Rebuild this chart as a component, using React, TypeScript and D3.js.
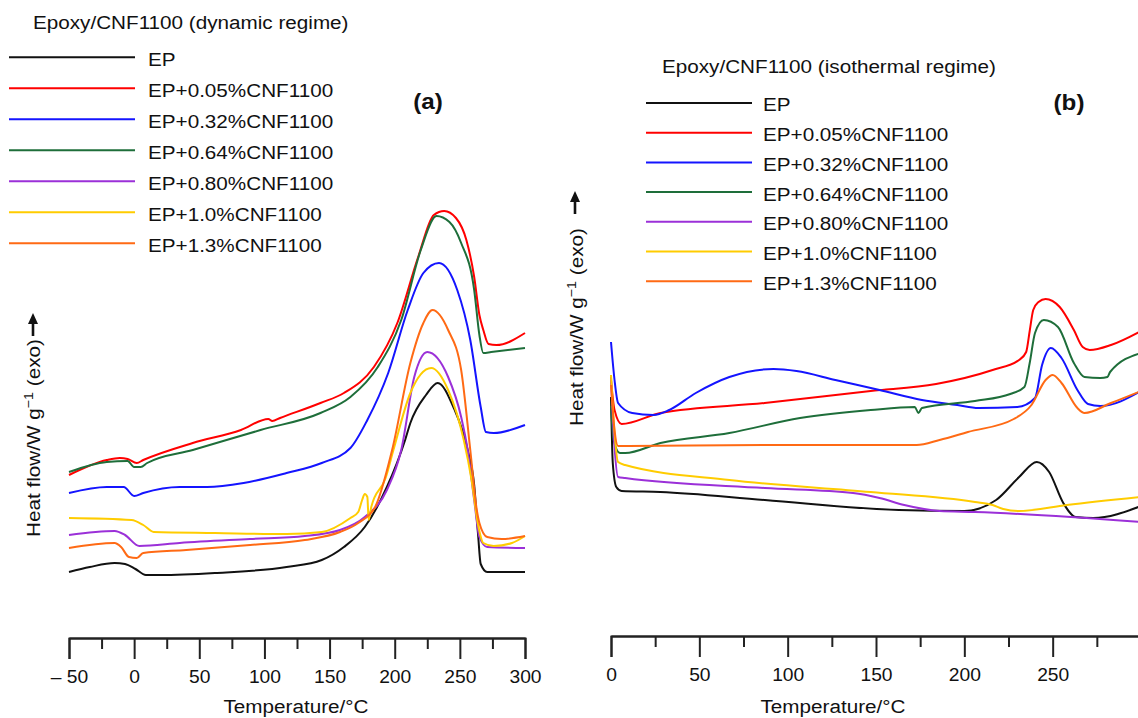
import React, { useEffect, useRef } from 'react';
import * as d3 from 'd3';

type Pt = [number, number];

// (a) dynamic regime: [temperature °C, heat flow (a.u., exo up)]
const dynEP: Pt[] = [[-50,0.68],[-34,0.73],[-15,0.77],[-7,0.76],[1,0.71],[9,0.65],[20,0.65],[62,0.67],[117,0.73],[144,0.80],[161,0.93],[177,1.13],[194,1.53],[208,2.00],[212,2.17],[224,2.45],[233,2.57],[245,2.33],[256,1.90],[261,1.55],[264,1.05],[266,0.76],[271,0.68],[300,0.68]];
const dyn005: Pt[] = [[-50,1.65],[-21,1.80],[-11,1.82],[-5,1.81],[2,1.77],[7,1.80],[45,1.97],[82,2.10],[103,2.21],[106,2.19],[112,2.22],[143,2.37],[161,2.47],[184,2.73],[202,3.17],[218,3.83],[230,4.25],[238,4.29],[247,4.22],[255,4.00],[261,3.63],[265,3.25],[268,3.10],[272,2.96],[278,2.95],[300,3.07]];
const dyn032: Pt[] = [[-50,1.47],[-21,1.53],[-8,1.53],[0,1.44],[7,1.47],[35,1.53],[56,1.53],[84,1.57],[117,1.67],[144,1.77],[166,1.92],[179,2.20],[195,2.67],[210,3.30],[222,3.67],[234,3.77],[248,3.50],[258,3.00],[266,2.33],[270,2.08],[276,2.07],[300,2.15]];
const dyn064: Pt[] = [[-50,1.68],[-21,1.78],[-5,1.79],[0,1.73],[5,1.73],[10,1.77],[45,1.90],[97,2.10],[143,2.27],[166,2.43],[187,2.73],[205,3.20],[220,3.90],[232,4.24],[242,4.18],[251,3.97],[261,3.50],[265,3.05],[268,2.87],[274,2.88],[300,2.92]];
const dyn080: Pt[] = [[-50,1.05],[-15,1.09],[-7,1.05],[4,0.94],[35,0.97],[89,1.01],[131,1.04],[158,1.10],[177,1.23],[194,1.50],[205,1.90],[215,2.63],[225,2.88],[241,2.63],[251,2.23],[256,1.90],[261,1.40],[265,1.03],[271,0.93],[300,0.92]];
const dyn10: Pt[] = [[-50,1.22],[-2,1.20],[7,1.15],[15,1.08],[62,1.07],[117,1.06],[144,1.08],[166,1.22],[172,1.28],[175,1.40],[177,1.46],[179,1.43],[180,1.20],[182,1.33],[193,1.62],[199,1.90],[212,2.47],[228,2.72],[241,2.50],[253,2.00],[259,1.60],[264,1.15],[268,0.97],[276,0.94],[290,0.97],[300,1.04]];
const dyn13: Pt[] = [[-50,0.92],[-15,0.97],[-10,0.93],[-4,0.83],[2,0.82],[7,0.87],[40,0.90],[89,0.95],[131,1.00],[158,1.08],[172,1.17],[185,1.33],[198,1.90],[212,2.77],[222,3.17],[229,3.30],[241,3.10],[251,2.70],[258,1.90],[263,1.30],[265,1.17],[271,1.03],[282,1.01],[300,1.04]];

// (b) isothermal regime
const isoEP: Pt[] = [[0,2.39],[1,1.73],[3,1.49],[6,1.45],[28,1.44],[87,1.36],[163,1.26],[200,1.25],[218,1.36],[231,1.59],[241,1.74],[248,1.64],[256,1.33],[263,1.19],[273,1.18],[300,1.30]];
const iso005: Pt[] = [[0,2.56],[2,2.26],[6,2.12],[28,2.23],[87,2.33],[147,2.45],[184,2.52],[216,2.66],[231,2.76],[235,2.84],[237,3.05],[239,3.26],[242,3.34],[246,3.37],[254,3.29],[262,3.06],[267,2.89],[271,2.86],[283,2.91],[300,3.05]];
const iso032: Pt[] = [[0,2.94],[2,2.56],[4,2.33],[12,2.23],[24,2.21],[33,2.26],[48,2.43],[67,2.59],[92,2.67],[105,2.65],[127,2.56],[152,2.46],[176,2.36],[196,2.31],[208,2.28],[230,2.29],[240,2.38],[244,2.71],[249,2.88],[255,2.78],[264,2.46],[270,2.32],[277,2.30],[300,2.45]];
const iso064: Pt[] = [[0,2.30],[1.5,1.96],[5,1.83],[8,1.83],[28,1.93],[67,2.03],[107,2.18],[147,2.26],[172,2.29],[174,2.23],[176,2.28],[206,2.35],[226,2.42],[234,2.49],[237,2.73],[240,3.03],[245,3.16],[253,3.09],[262,2.73],[268,2.59],[277,2.58],[281,2.59],[282.5,2.64],[300,2.83]];
const iso080: Pt[] = [[0,2.59],[2,1.89],[4,1.59],[8,1.58],[87,1.48],[137,1.43],[152,1.38],[166,1.31],[186,1.25],[206,1.24],[300,1.14]];
const iso10: Pt[] = [[0,2.61],[2,2.03],[4,1.74],[8,1.71],[67,1.56],[147,1.44],[206,1.34],[216,1.31],[222,1.27],[231,1.25],[258,1.31],[300,1.39]];
const iso13: Pt[] = [[0,2.51],[2,2.06],[4,1.90],[8,1.90],[87,1.91],[173,1.91],[186,1.96],[202,2.04],[228,2.17],[238,2.31],[246,2.56],[250,2.61],[255,2.53],[264,2.28],[268,2.23],[283,2.33],[300,2.45]];

const labels = ['EP', 'EP+0.05%CNF1100', 'EP+0.32%CNF1100', 'EP+0.64%CNF1100', 'EP+0.80%CNF1100', 'EP+1.0%CNF1100', 'EP+1.3%CNF1100'];
const colors = ['#111111', '#ff0000', '#1414ff', '#1e6e3a', '#9b30d8', '#ffcc00', '#ff6a14'];

const majorA = [-50, 0, 50, 100, 150, 200, 250, 300];
const minorA = [-25, 25, 75, 125, 175, 225, 275];
const majorB = [0, 50, 100, 150, 200, 250, 300];
const minorB = [25, 75, 125, 175, 225, 275];

const W = 1138;
const H = 718;
const SX = 1.1; // the reference face is a bit wider than Arial
const FONT = "'Liberation Sans', Arial, Helvetica, sans-serif";

const App = () => {
  const svgRef = useRef<SVGSVGElement>(null);

  useEffect(() => {
    const svg = d3.select(svgRef.current);
    svg.selectAll('*').remove();
    svg.attr('width', W).attr('height', H).style('font-family', FONT);

    const panels = [
      {
        series: [dynEP, dyn005, dyn032, dyn064, dyn080, dyn10, dyn13],
        x: d3.scaleLinear().domain([-50, 300]).range([69, 525]),
        y: d3.scaleLinear().domain([0, 5]).range([640, 140]),
        axisY: 638, major: majorA, minor: minorA, shown: majorA,
        title: 'Epoxy/CNF1100 (dynamic regime)', titleX: 33, titleY: 28.5,
        legX1: 9, legX2: 135, legY: 57.3, legDy: 31, legTx: 148,
        tag: '(a)', tagX: 428, tagY: 109,
        xTitleX: 296, ylabX: 40, ylabY: 438, arrowX: 33, arrowY: 336,
      },
      {
        series: [isoEP, iso005, iso032, iso064, iso080, iso10, iso13],
        x: d3.scaleLinear().domain([0, 300]).range([611, 1141]),
        y: d3.scaleLinear().domain([0, 5]).range([636, 136]),
        axisY: 636, major: majorB, minor: minorB, shown: [0, 50, 100, 150, 200, 250],
        title: 'Epoxy/CNF1100 (isothermal regime)', titleX: 662, titleY: 73,
        legX1: 646, legX2: 752, legY: 103, legDy: 29.7, legTx: 763,
        tag: '(b)', tagX: 1069, tagY: 110,
        xTitleX: 833, ylabX: 583, ylabY: 327, arrowX: 575, arrowY: 214,
      },
    ];

    const text = (x: number, y: number, s: string, size: number) =>
      svg.append('text')
        .attr('transform', `translate(${x},${y}) scale(${SX},1)`)
        .attr('font-size', size)
        .attr('fill', '#111')
        .text(s);

    panels.forEach(p => {
      const line = d3.line<Pt>()
        .x(d => p.x(d[0]))
        .y(d => p.y(d[1]))
        .curve(d3.curveMonotoneX);

      p.series.forEach((s, i) => {
        svg.append('path')
          .datum(s)
          .attr('d', line)
          .attr('fill', 'none')
          .attr('stroke', colors[i])
          .attr('stroke-width', 2)
          .attr('stroke-linejoin', 'round');
      });

      // axis: minor ticks first, then major with the end corners
      const minorAxis = d3.axisBottom(p.x).tickValues(p.minor).tickSize(11).tickSizeOuter(0).tickFormat(() => '');
      const majorAxis = d3.axisBottom(p.x).tickValues(p.major).tickSize(21).tickSizeOuter(21).tickPadding(12)
        .tickFormat(d => {
          const v = +d;
          if (!p.shown.includes(v)) return '';
          return v < 0 ? `– ${-v}` : `${v}`;
        });

      [minorAxis, majorAxis].forEach(ax => {
        const g = svg.append('g').attr('transform', `translate(0,${p.axisY})`).call(ax);
        g.attr('font-family', FONT).attr('font-size', 17.5);
        g.selectAll('path, line').attr('stroke', '#222').attr('stroke-width', 2);
        g.selectAll('text').attr('fill', '#111').attr('transform', `scale(${SX},1)`);
      });

      text(p.xTitleX, 713, 'Temperature/°C', 18.8).attr('text-anchor', 'middle');

      // y label with the exo arrow
      const yl = svg.append('text')
        .attr('transform', `translate(${p.ylabX},${p.ylabY}) rotate(-90) scale(${SX},1)`)
        .attr('text-anchor', 'middle')
        .attr('font-size', 18.8)
        .attr('fill', '#111');
      yl.append('tspan').text('Heat flow/W g');
      yl.append('tspan').attr('font-size', 13).attr('dy', -7).text('−1');
      yl.append('tspan').attr('dy', 7).text(' (exo)');

      svg.append('line')
        .attr('x1', p.arrowX).attr('x2', p.arrowX)
        .attr('y1', p.arrowY).attr('y2', p.arrowY - 14)
        .attr('stroke', '#111').attr('stroke-width', 2.6);
      svg.append('path')
        .attr('d', `M${p.arrowX},${p.arrowY - 23}L${p.arrowX - 5},${p.arrowY - 12}L${p.arrowX + 5},${p.arrowY - 12}Z`)
        .attr('fill', '#111');

      // legend
      text(p.titleX, p.titleY, p.title, 18.8);
      labels.forEach((l, i) => {
        const ly = p.legY + i * p.legDy;
        svg.append('line')
          .attr('x1', p.legX1).attr('x2', p.legX2)
          .attr('y1', ly).attr('y2', ly)
          .attr('stroke', colors[i]).attr('stroke-width', 2);
        text(p.legTx, ly + 8.4, l, 18.8);
      });

      text(p.tagX, p.tagY, p.tag, 22).attr('text-anchor', 'middle').attr('font-weight', 'bold');
    });
  }, []);

  return <svg ref={svgRef} style={{ position: 'absolute', left: 0, top: 0, display: 'block' }} />;
};

export default App;
